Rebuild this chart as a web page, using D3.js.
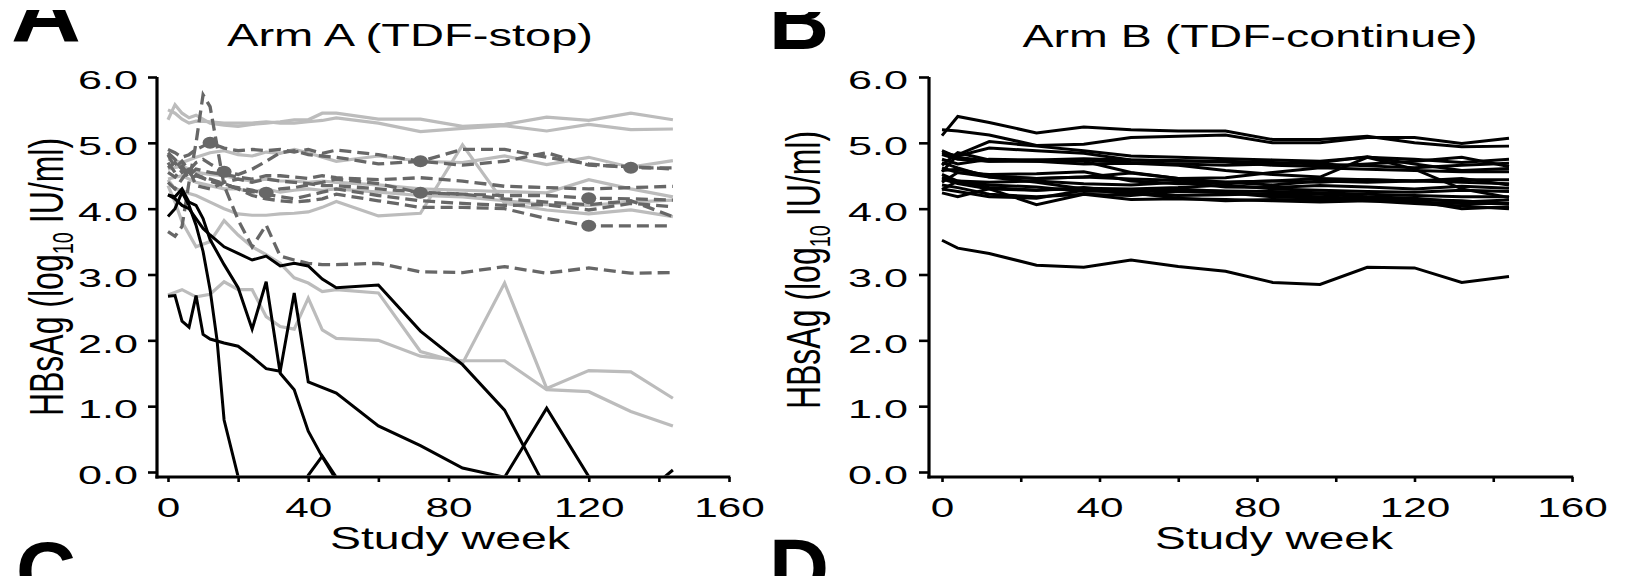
<!DOCTYPE html>
<html>
<head>
<meta charset="utf-8">
<script src="https://cdn.jsdelivr.net/npm/d3@7"></script>
<style>
  html, body { margin: 0; padding: 0; background: #fff; }
  svg { display: block; }
  text { font-family: "Liberation Sans", Arial, Helvetica, sans-serif; fill: #000; }
</style>
</head>
<body>
<svg id="fig" width="1627" height="576"></svg>
<script>
// ---------- Data: HBsAg (log10 IU/ml) by study week ----------

const yTicks = [0, 1, 2, 3, 4, 5, 6];
const xTicks = [0, 20, 40, 60, 80, 100, 120, 140, 160];
const xTickLabels = [0, 40, 80, 120, 160];

// Arm A (TDF-stop): each participant as [week, value] pairs.
// Values below the axis are undetectable visits (kept under the plotted range).
const armAGrey = [
  [[0,5.35],[2,5.58],[4,5.45],[6,5.38],[8,5.42],[12,5.3],[16,5.27],[20,5.25],[24,5.28],[28,5.3],[32,5.32],[36,5.35],[40,5.35],[44,5.45],[48,5.45],[60,5.36],[72,5.36],[84,5.25],[96,5.28],[108,5.39],[120,5.34],[132,5.45],[144,5.35]],
  [[0,5.5],[2,5.45],[4,5.36],[6,5.3],[8,5.33],[12,5.32],[16,5.3],[20,5.3],[24,5.3],[28,5.32],[32,5.3],[36,5.3],[40,5.32],[44,5.34],[48,5.38],[60,5.3],[72,5.17],[84,5.22],[96,5.26],[108,5.18],[120,5.28],[132,5.2],[144,5.21]],
  [[0,4.75],[4,4.7],[8,4.78],[12,4.85],[16,4.88],[20,4.82],[24,4.8],[28,4.86],[32,4.84],[36,4.9],[40,4.85],[44,4.78],[48,4.72],[60,4.8],[72,4.72],[84,4.7],[96,4.8],[108,4.67],[120,4.78],[132,4.63],[144,4.73]],
  [[0,4.6],[4,4.65],[8,4.55],[12,4.52],[16,4.5],[20,4.45],[24,4.42],[28,4.45],[32,4.42],[36,4.42],[40,4.4],[44,4.42],[48,4.4],[60,4.36],[72,4.3],[84,4.28],[96,4.26],[108,4.24],[120,4.44],[132,4.3],[144,4.18]],
  [[0,4.45],[4,4.5],[8,4.4],[12,4.35],[16,4.3],[20,4.3],[24,4.25],[28,4.3],[32,4.25],[36,4.28],[40,4.3],[44,4.28],[48,4.3],[60,4.25],[72,4.2],[84,4.18],[96,4.12],[108,4.06],[120,4.05],[132,4.1],[144,4.13]],
  [[0,4.44],[2,4.3],[4,4.28],[6,4.23],[8,4.2],[12,4.1],[16,4.0],[20,3.92],[24,3.9],[28,3.9],[32,3.92],[36,3.93],[40,3.95],[44,4.02],[48,4.11],[60,3.89],[72,3.93],[84,4.97],[96,4.08],[108,3.98],[120,3.92],[132,3.98],[144,3.88]],
  [[0,4.35],[2,4.1],[4,3.8],[8,3.42],[12,3.5],[16,3.82],[20,3.6],[24,3.42],[28,3.3],[32,3.17],[36,2.95],[40,2.87],[44,2.74],[48,2.77],[60,2.72],[72,1.83],[84,1.65],[96,2.87],[108,1.27],[120,1.54],[132,1.52],[144,1.12]],
  [[0,2.69],[4,2.77],[8,2.66],[12,2.7],[16,2.89],[20,2.77],[24,2.77],[28,2.36],[32,2.21],[36,2.17],[40,2.64],[44,2.16],[48,2.03],[60,2.0],[72,1.76],[84,1.69],[96,1.69],[108,1.25],[120,1.22],[132,0.92],[144,0.7]]
];

const armADashed = [
  [[0,3.65],[2,3.58],[4,3.73],[6,4.4],[8,5.0],[10,5.73],[12,5.55],[16,4.35],[20,3.83],[24,3.42],[28,3.75],[32,3.28],[36,3.22],[40,3.17],[44,3.15],[48,3.15],[60,3.17],[72,3.04],[84,3.03],[96,3.12],[108,3.02],[120,3.1],[132,3.02],[144,3.03]],
  [[0,4.9],[2,4.85],[4,4.78],[6,4.82],[8,4.9],[10,4.95],[12,5.0],[16,4.92],[20,4.88],[24,4.9],[28,4.88],[32,4.9],[36,4.86],[40,4.9],[44,4.84],[48,4.89],[60,4.82],[72,4.72],[84,4.9],[96,4.9],[108,4.78],[120,4.68],[132,4.62],[144,4.62]],
  [[0,4.82],[2,4.62],[4,4.72],[6,4.58],[8,4.7],[10,4.75],[12,4.68],[16,4.56],[20,4.52],[24,4.6],[28,4.72],[32,4.85],[36,4.88],[40,4.82],[44,4.8],[48,4.78],[60,4.68],[72,4.72],[84,4.66],[96,4.72],[108,4.85],[120,4.66],[132,4.64],[144,4.6]],
  [[0,4.7],[2,4.55],[4,4.65],[6,4.5],[8,4.6],[12,4.55],[16,4.52],[20,4.48],[24,4.45],[28,4.5],[32,4.5],[36,4.48],[40,4.46],[44,4.5],[48,4.47],[60,4.44],[72,4.47],[84,4.42],[96,4.34],[108,4.32],[120,4.3],[132,4.32],[144,4.34]],
  [[0,4.55],[2,4.48],[4,4.62],[6,4.45],[8,4.5],[12,4.45],[16,4.38],[20,4.3],[24,4.26],[28,4.24],[32,4.3],[36,4.32],[40,4.36],[44,4.4],[48,4.45],[60,4.38],[72,4.24],[84,4.22],[96,4.2],[108,4.2],[120,4.16],[132,4.15],[144,4.13]],
  [[0,4.62],[2,4.7],[4,4.55],[6,4.6],[8,4.52],[12,4.42],[16,4.35],[20,4.32],[24,4.28],[28,4.22],[32,4.18],[36,4.15],[40,4.2],[44,4.25],[48,4.3],[60,4.2],[72,4.12],[84,4.08],[96,4.05],[108,4.06],[120,3.98],[132,4.08],[144,4.03]],
  [[0,4.85],[2,4.75],[4,4.6],[8,4.5],[12,4.42],[16,4.38],[20,4.3],[24,4.2],[28,4.15],[32,4.12],[36,4.1],[40,4.12],[44,4.15],[48,4.22],[60,4.12],[72,4.02],[84,4.02],[96,4.0],[108,3.85],[120,3.74],[132,3.74],[144,3.74]],
  [[0,4.4],[2,4.3],[4,4.45],[6,4.6],[8,4.35],[12,4.3],[16,4.4],[20,4.45],[24,4.4],[28,4.45],[32,4.42],[36,4.4],[40,4.38],[44,4.35],[48,4.35],[60,4.3],[72,4.25],[84,4.22],[96,4.15],[108,4.1],[120,4.06],[132,4.12],[144,3.88]]
];

// Marked visits on the dashed trajectories
const armADots = [[12,5.0],[16,4.56],[28,4.24],[72,4.72],[72,4.24],[120,4.16],[120,3.74],[132,4.62]];

const armABlack = [
  [[0,2.67],[2,2.68],[4,2.29],[6,2.2],[8,2.68],[10,2.09],[12,2.02],[16,1.96],[20,1.91],[24,1.75],[28,1.57],[32,1.53],[36,2.72],[40,1.37],[48,1.2],[60,0.7],[72,0.4],[84,0.06],[96,-0.08],[108,0.97],[120,-0.07],[132,-0.5],[144,0.03]],
  [[0,4.21],[2,4.18],[4,4.3],[6,4.1],[8,4.05],[10,3.85],[12,3.53],[16,3.15],[20,2.8],[24,2.17],[28,2.89],[32,1.5],[36,1.25],[40,0.62],[44,0.23],[48,-0.12],[60,-0.6]],
  [[0,3.88],[2,4.0],[4,4.25],[6,4.05],[8,3.75],[10,3.35],[12,2.77],[14,2.0],[16,0.79],[20,-0.07],[24,-0.6],[36,-0.6],[40,-0.05],[44,0.24],[48,-0.08],[60,-0.6]],
  [[0,4.21],[2,4.15],[4,4.05],[6,4.0],[8,3.85],[10,3.7],[12,3.6],[16,3.42],[20,3.32],[24,3.22],[28,3.28],[32,3.13],[36,3.17],[40,3.13],[44,2.93],[48,2.8],[60,2.84],[72,2.14],[84,1.63],[96,0.94],[108,-0.27]]
];

// Arm B (TDF-continue): common visit schedule
const weeksB = [0, 4, 12, 24, 36, 48, 60, 72, 84, 96, 108, 120, 132, 144];
const armB = [
  [5.11, 5.40, 5.31, 5.15, 5.24, 5.20, 5.18, 5.18, 5.05, 5.05, 5.10, 5.00, 4.94, 4.95],
  [5.20, 5.18, 5.12, 4.96, 4.98, 5.08, 5.10, 5.12, 5.00, 5.00, 5.08, 5.08, 4.99, 5.07],
  [4.56, 4.82, 5.02, 4.95, 4.88, 4.80, 4.78, 4.76, 4.74, 4.72, 4.78, 4.75, 4.70, 4.75],
  [4.85, 4.80, 4.92, 4.88, 4.84, 4.74, 4.72, 4.72, 4.70, 4.68, 4.65, 4.62, 4.66, 4.69],
  [4.88, 4.78, 4.72, 4.74, 4.76, 4.74, 4.73, 4.71, 4.66, 4.64, 4.68, 4.72, 4.78, 4.64],
  [4.82, 4.75, 4.72, 4.72, 4.74, 4.70, 4.68, 4.66, 4.68, 4.70, 4.79, 4.68, 4.58, 4.61],
  [4.75, 4.68, 4.75, 4.74, 4.72, 4.55, 4.46, 4.47, 4.55, 4.62, 4.60, 4.58, 4.56, 4.56],
  [4.66, 4.85, 4.74, 4.72, 4.68, 4.69, 4.66, 4.58, 4.52, 4.48, 4.78, 4.60, 4.30, 4.17],
  [4.62, 4.55, 4.52, 4.53, 4.56, 4.42, 4.38, 4.40, 4.42, 4.40, 4.44, 4.42, 4.44, 4.44],
  [4.58, 4.60, 4.50, 4.46, 4.48, 4.45, 4.43, 4.40, 4.36, 4.42, 4.40, 4.42, 4.46, 4.36],
  [4.52, 4.42, 4.40, 4.42, 4.38, 4.36, 4.40, 4.33, 4.32, 4.35, 4.33, 4.30, 4.34, 4.31],
  [4.48, 4.40, 4.32, 4.28, 4.31, 4.30, 4.32, 4.36, 4.30, 4.28, 4.26, 4.25, 4.28, 4.26],
  [4.45, 4.38, 4.30, 4.28, 4.32, 4.25, 4.28, 4.27, 4.26, 4.24, 4.22, 4.20, 4.18, 4.18],
  [4.40, 4.55, 4.48, 4.40, 4.30, 4.22, 4.20, 4.21, 4.23, 4.22, 4.18, 4.16, 4.10, 4.13],
  [4.36, 4.32, 4.22, 4.18, 4.22, 4.14, 4.15, 4.14, 4.12, 4.10, 4.12, 4.10, 4.08, 4.08],
  [4.30, 4.26, 4.18, 4.16, 4.28, 4.24, 4.16, 4.12, 4.14, 4.13, 4.14, 4.12, 4.00, 4.03],
  [4.24, 4.18, 4.30, 4.06, 4.22, 4.20, 4.26, 4.24, 4.18, 4.16, 4.12, 4.08, 4.04, 4.00],
  [4.29, 4.42, 4.36, 4.33, 4.26, 4.28, 4.30, 4.26, 4.20, 4.18, 4.15, 4.14, 4.12, 4.07],
  [4.70, 4.62, 4.48, 4.46, 4.48, 4.54, 4.46, 4.40, 4.42, 4.46, 4.44, 4.42, 4.40, 4.38],
  [3.52, 3.40, 3.32, 3.14, 3.11, 3.22, 3.12, 3.05, 2.88, 2.85, 3.11, 3.10, 2.88, 2.97]
];

// ---------- Drawing ----------
const svg = d3.select('#fig');
const defs = svg.append('defs');

const GREY = '#bcbcbc';
const DARK = '#676767';
const AXIS_Y = 477;   // x-axis line position

function stretchText(sel, width) {
  sel.attr('textLength', width).attr('lengthAdjust', 'spacingAndGlyphs');
}

function drawPanel(p) {
  const { id, x, y, axisX } = p;
  const g = svg.append('g');

  // clip marks to the plotting region above the x-axis line
  defs.append('clipPath').attr('id', id)
    .append('rect')
    .attr('x', axisX + 1.5).attr('y', 0)
    .attr('width', x(160) - axisX + 10).attr('height', AXIS_Y - 1.5);

  const marks = g.append('g').attr('clip-path', `url(#${id})`);

  // y axis ticks and labels
  const ya = g.append('g')
    .attr('transform', `translate(${axisX},0)`)
    .call(d3.axisLeft(y).tickValues(yTicks).tickSize(p.yTickLen)
      .tickPadding(p.yLabelGap).tickFormat(d3.format('.1f')));
  ya.select('.domain').remove();
  ya.selectAll('line').attr('stroke', '#000').attr('stroke-width', 2.6);
  ya.selectAll('text').attr('font-size', 26).attr('dy', '0.45em')
    .attr('font-family', '"Liberation Sans", Arial, sans-serif')
    .call(stretchText, 60);

  // x axis ticks (every 20 weeks) and labels (every 40 weeks)
  const xa = g.append('g')
    .attr('transform', `translate(0,${AXIS_Y})`)
    .call(d3.axisBottom(x).tickValues(xTicks).tickSize(5).tickPadding(15)
      .tickFormat(d => xTickLabels.includes(d) ? String(d) : ''));
  xa.select('.domain').remove();
  xa.selectAll('line').attr('stroke', '#000').attr('stroke-width', 2.6);
  xa.selectAll('text').attr('font-size', 28)
    .attr('font-family', '"Liberation Sans", Arial, sans-serif')
    .each(function (d) {
      if (xTickLabels.includes(d)) stretchText(d3.select(this), String(d).length * 23.5);
    });

  // axis lines
  g.append('line').attr('x1', axisX).attr('x2', axisX)
    .attr('y1', y(6)).attr('y2', AXIS_Y + 1.5)
    .attr('stroke', '#000').attr('stroke-width', 3.2);
  g.append('line').attr('x1', axisX - 1.6).attr('x2', x(160) + 1.3)
    .attr('y1', AXIS_Y).attr('y2', AXIS_Y)
    .attr('stroke', '#000').attr('stroke-width', 3.2);

  // title
  g.append('text').attr('x', p.titleX).attr('y', p.titleY)
    .attr('font-size', 31).attr('text-anchor', 'middle')
    .text(p.title).call(stretchText, p.titleW);

  // x-axis title
  g.append('text').attr('x', p.xTitleX).attr('y', 549)
    .attr('font-size', 32).attr('text-anchor', 'middle')
    .text('Study week').call(stretchText, p.xTitleW);

  // y-axis title, rotated; glyphs widened like the rest of the figure
  const yt = g.append('text')
    .attr('transform', `translate(${p.yTitleX},${p.yTitleY}) scale(1.48,1) rotate(-90)`)
    .attr('font-size', 32).attr('text-anchor', 'middle');
  yt.append('tspan').text('HBsAg (log');
  yt.append('tspan').attr('font-size', 20).attr('dy', 7).text('10');
  yt.append('tspan').attr('dy', -7).text(' IU/ml)');

  return marks;
}

function panelLetter(ch, cx, baseline, width, clipTop) {
  const cid = 'letter-' + ch;
  defs.append('clipPath').attr('id', cid)
    .append('rect').attr('x', cx - 60).attr('y', clipTop)
    .attr('width', 120).attr('height', 700);
  svg.append('text').attr('clip-path', `url(#${cid})`)
    .attr('x', cx).attr('y', baseline)
    .attr('font-size', 84).attr('font-weight', 'bold').attr('text-anchor', 'middle')
    .text(ch).call(stretchText, width);
}

// ----- Panel A -----
const xA = d3.scaleLinear().domain([0, 160]).range([168, 729]);
const yA = d3.scaleLinear().domain([0, 6]).range([472, 77]);
const lineA = d3.line().x(d => xA(d[0])).y(d => yA(d[1]));

const marksA = drawPanel({
  id: 'clipA', x: xA, y: yA, axisX: 157, yTickLen: 9, yLabelGap: 10,
  title: 'Arm A (TDF-stop)', titleX: 410, titleY: 46, titleW: 366,
  xTitleX: 450, xTitleW: 240, yTitleX: 63, yTitleY: 277
});

marksA.selectAll('path.grey').data(armAGrey).join('path')
  .attr('class', 'grey').attr('d', lineA)
  .attr('fill', 'none').attr('stroke', GREY).attr('stroke-width', 3.2);

marksA.selectAll('path.dash').data(armADashed).join('path')
  .attr('class', 'dash').attr('d', lineA)
  .attr('fill', 'none').attr('stroke', DARK).attr('stroke-width', 3.3)
  .attr('stroke-dasharray', '12,6');

marksA.selectAll('ellipse').data(armADots).join('ellipse')
  .attr('cx', d => xA(d[0])).attr('cy', d => yA(d[1]))
  .attr('rx', 7.5).attr('ry', 6).attr('fill', DARK);

marksA.selectAll('path.black').data(armABlack).join('path')
  .attr('class', 'black').attr('d', lineA)
  .attr('fill', 'none').attr('stroke', '#000').attr('stroke-width', 3);

// ----- Panel B -----
const xB = d3.scaleLinear().domain([0, 160]).range([942, 1572]);
const yB = d3.scaleLinear().domain([0, 6]).range([472, 77]);
const lineB = d3.line().x((d, i) => xB(weeksB[i])).y(d => yB(d));

const marksB = drawPanel({
  id: 'clipB', x: xB, y: yB, axisX: 929, yTickLen: 10, yLabelGap: 11,
  title: 'Arm B (TDF-continue)', titleX: 1250, titleY: 47, titleW: 455,
  xTitleX: 1274, xTitleW: 238, yTitleX: 820, yTitleY: 270
});

marksB.selectAll('path').data(armB).join('path')
  .attr('d', lineB)
  .attr('fill', 'none').attr('stroke', '#000').attr('stroke-width', 3);

// ----- Panel letters -----
panelLetter('A', 46, 42, 70, 10);
panelLetter('B', 799, 49, 60, 12);
panelLetter('C', 46, 600, 60, 0);
panelLetter('D', 799, 597, 60, 0);
</script>
</body>
</html>
